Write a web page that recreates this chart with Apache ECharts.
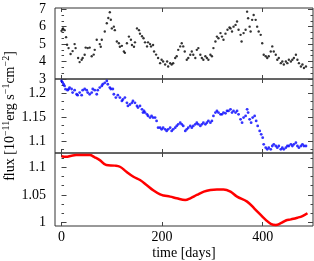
<!DOCTYPE html>
<html><head><meta charset="utf-8">
<script src="https://cdn.jsdelivr.net/npm/echarts@6/dist/echarts.min.js"></script>
<style>html,body{margin:0;padding:0;background:#fff}#c{width:314px;height:261px}</style>
</head><body><div id="c"></div>
<script>
// ---- data ----
const topT = [0,2,3,6,9,11,14,18,22,26,28,33,36,40,42,46,48,52,56,60,64,66,70,76,78,80,86,90,93,96,98,100,104,106,110,114,116,120,124,126,130,134,138,140,144,146,150,154,156,160,163,166,170,172,176,178,182,184,188,192,196,199,202,206,210,212,216,219,222,226,229,232,236,239,242,245,249,252,256,259,262,266,269,272,276,279,282,286,289,292,296,299,302,306,309,312,316,319,322,326,330,334,336,339,342,346,349,352,356,358,362,366,369,371,374,376,379,382,386,389,392,396,399,402,406,409,412,416,419,422,426,429,432,436,439,442,446,449,452,456,459,462,466,469,472,476,479,482,486];
const topV = [5.76,5.85,5.9,5.8,5.4,4.96,4.77,4.43,4.6,5.0,4.77,4.2,3.97,4.1,4.2,4.39,4.8,4.77,4.8,4.3,4.4,4.67,5.25,5.0,4.85,5.25,5.72,6.2,6.5,6.83,6.4,5.9,6.0,5.8,5.15,5.05,4.85,4.9,4.58,4.5,5.05,5.43,5.25,4.95,4.85,5.1,5.9,5.8,5.6,5.45,5.34,5.1,4.87,5.1,5.0,4.87,4.95,4.58,4.4,4.2,3.91,4.1,4.0,3.83,4.0,3.72,3.9,3.83,3.9,4.2,4.3,4.67,4.87,5.05,4.87,4.58,4.1,4.2,4.39,4.58,4.39,4.2,4.67,4.77,4.39,4.2,4.1,4.3,4.2,4.1,4.39,4.3,4.77,5.15,5.43,5.34,5.63,5.43,5.25,5.6,5.82,5.95,5.9,5.72,6.0,6.1,6.3,5.82,5.53,5.15,5.63,5.82,6.86,6.48,6.0,5.72,6.39,6.67,6.39,6.0,5.72,5.53,5.05,4.39,4.3,4.2,4.3,4.58,4.87,4.58,4.39,4.1,4.2,3.91,4.0,3.83,4.0,3.91,4.1,4.0,4.1,4.2,4.39,4.1,3.91,3.72,3.83,3.63,3.72];

const midT = [0,2,4,6,8,12,14,16,20,22,26,30,32,36,40,42,46,50,52,56,60,62,66,70,72,76,80,82,86,90,92,96,98,102,104,108,112,116,120,122,126,130,132,136,140,142,146,150,152,156,160,162,164,166,170,172,176,179,182,186,189,192,196,199,202,206,209,212,216,219,222,226,229,232,236,239,242,246,249,252,256,259,262,266,269,272,276,279,282,286,289,292,296,299,302,306,309,312,316,319,322,326,329,332,336,339,342,346,349,352,356,359,362,366,369,371,374,377,380,384,387,390,394,397,400,402,406,409,412,416,419,422,426,429,432,436,439,442,446,449,452,456,459,462,466,469,472,476,479,482,486];
const midV = [1.226,1.223,1.219,1.2155,1.2086,1.2065,1.2086,1.212,1.209,1.2016,1.2065,1.198,1.196,1.2016,1.196,1.2065,1.209,1.2065,1.2016,1.198,1.2016,1.209,1.2065,1.198,1.2065,1.212,1.2155,1.219,1.222,1.226,1.219,1.212,1.209,1.209,1.198,1.191,1.196,1.191,1.184,1.187,1.191,1.18,1.1735,1.1765,1.18,1.184,1.18,1.1735,1.17,1.1735,1.1665,1.1595,1.163,1.1595,1.156,1.1525,1.149,1.1525,1.149,1.149,1.142,1.128,1.128,1.1245,1.128,1.1245,1.121,1.1245,1.128,1.121,1.1245,1.128,1.1315,1.135,1.1385,1.135,1.1315,1.121,1.1245,1.128,1.1315,1.128,1.1315,1.135,1.1385,1.135,1.1315,1.135,1.1385,1.135,1.1385,1.142,1.1385,1.142,1.1525,1.1595,1.163,1.1595,1.156,1.156,1.1595,1.158,1.163,1.163,1.1665,1.1595,1.163,1.1595,1.163,1.156,1.1455,1.1385,1.149,1.1525,1.1665,1.1595,1.1455,1.1385,1.149,1.1525,1.142,1.1315,1.121,1.114,1.107,1.093,1.086,1.0825,1.086,1.0825,1.0895,1.093,1.0895,1.086,1.0895,1.0825,1.086,1.0825,1.086,1.0895,1.0895,1.093,1.0895,1.093,1.0965,1.0895,1.086,1.0895,1.093,1.0895,1.0895];

const botT = [0,9,20,29,45,56,66,76,89,106,116,129,143,156,169,183,196,203,216,229,246,256,269,283,296,309,322,336,349,369,383,396,406,416,426,436,446,456,469,479,489];
const botV = [1.120,1.119,1.121,1.122,1.122,1.122,1.118,1.113,1.104,1.103,1.101,1.092,1.083,1.077,1.068,1.058,1.051,1.049,1.047,1.044,1.041,1.044,1.050,1.056,1.059,1.060,1.060,1.056,1.047,1.038,1.026,1.014,1.005,0.998,0.996,0.999,1.004,1.006,1.009,1.012,1.017];

const xTicks = [0, 200, 400];
const topTicks = [3, 4, 5, 6, 7];
const topMinor = [3.333,3.667,4.333,4.667,5.333,5.667,6.333,6.667];
const midTicks = [1.1, 1.15, 1.2];
const midMinor = [1.0833,1.1167,1.1333,1.1667,1.1833,1.2167];
const botTicks = [1, 1.05, 1.1];
const botMinor = [1.0167,1.0333,1.0667,1.0833,1.1167];

const xName = 'time [days]';
const yName = '{a|flux [10}{s|−11}{a|erg s}{s|−1}{a|cm}{s|−2}{a|]}';

// ---- layout ----
const FONT = 'Liberation Serif';
const grids = [
  {left: 55, right: 1, top: 8, height: 71},
  {left: 55, right: 1, top: 79, height: 74},
  {left: 55, right: 1, top: 153, height: 73}
].map(g => Object.assign(g, {show: true, borderColor: '#333', borderWidth: 1,
  backgroundColor: 'transparent', containLabel: false, outerBoundsMode: 'none'}));

const XMIN = -13, XMAX = 500;
const xAxes = [];
for (let g = 0; g < 3; g++) {
  ['bottom', 'top'].forEach(pos => {
    const isMainLabel = (g === 2 && pos === 'bottom');
    xAxes.push({
      type: 'value', gridIndex: g, position: pos, min: XMIN, max: XMAX,
      axisLine: {show: false},
      splitLine: {show: false},
      axisTick: {show: true, inside: true, length: 4, customValues: xTicks, lineStyle: {color: '#444'}},
      axisLabel: {show: isMainLabel, customValues: xTicks, fontFamily: FONT, fontSize: 14, color: '#000', margin: 4},
      name: isMainLabel ? xName : '',
      nameLocation: 'middle', nameGap: 20, nameMoveOverlap: false,
      nameTextStyle: {fontFamily: FONT, fontSize: 14, color: '#000'}
    });
  });
}

const yDefs = [
  {min: 3, max: 7.07, major: topTicks, minor: topMinor},
  {min: 1.0748, max: 1.23, major: midTicks, minor: midMinor},
  {min: 0.994, max: 1.1258, major: botTicks, minor: botMinor}
];
const yAxes = [];
yDefs.forEach((d, g) => {
  ['left', 'right'].forEach(pos => {
    [true, false].forEach(isMajor => {
      const ax = {
        type: 'value', gridIndex: g, position: pos, min: d.min, max: d.max,
        axisLine: {show: false}, splitLine: {show: false},
        axisTick: {show: true, inside: true, length: isMajor ? 5 : 2.5,
                   customValues: isMajor ? d.major : d.minor, lineStyle: {color: '#444'}},
        axisLabel: {show: isMajor && pos === 'left', customValues: d.major,
                    fontFamily: FONT, fontSize: 14, color: '#000', margin: 9}
      };
      if (g === 1 && pos === 'left' && isMajor) {
        ax.name = yName;
        ax.nameLocation = 'middle';
        ax.nameGap = 38;
        ax.nameMoveOverlap = false;
        ax.nameRotate = 90;
        ax.nameTextStyle = {
          fontFamily: FONT, color: '#000',
          rich: {
            a: {fontFamily: FONT, fontSize: 14, color: '#000', lineHeight: 16, verticalAlign: 'bottom'},
            s: {fontFamily: FONT, fontSize: 10, color: '#000', lineHeight: 12, verticalAlign: 'top'}
          }
        };
      }
      yAxes.push(ax);
    });
  });
});

const zip = (a, b) => a.map((t, i) => [t, b[i]]);

const option = {
  animation: false,
  grid: grids,
  xAxis: xAxes,
  yAxis: yAxes,
  series: [
    {type: 'scatter', xAxisIndex: 0, yAxisIndex: 0, data: zip(topT, topV),
     symbol: 'circle', symbolSize: 2.4, itemStyle: {color: '#000'}},
    {type: 'scatter', xAxisIndex: 2, yAxisIndex: 4, data: zip(midT, midV),
     symbol: 'circle', symbolSize: 2.8, itemStyle: {color: '#0000ff'}},
    {type: 'line', xAxisIndex: 4, yAxisIndex: 8, data: zip(botT, botV),
     showSymbol: false, smooth: 0.4, lineStyle: {color: '#ff0000', width: 2.5}}
  ]
};
const chart = echarts.init(document.getElementById('c'), null, {renderer: 'canvas'});
chart.setOption(option);
</script></body></html>
